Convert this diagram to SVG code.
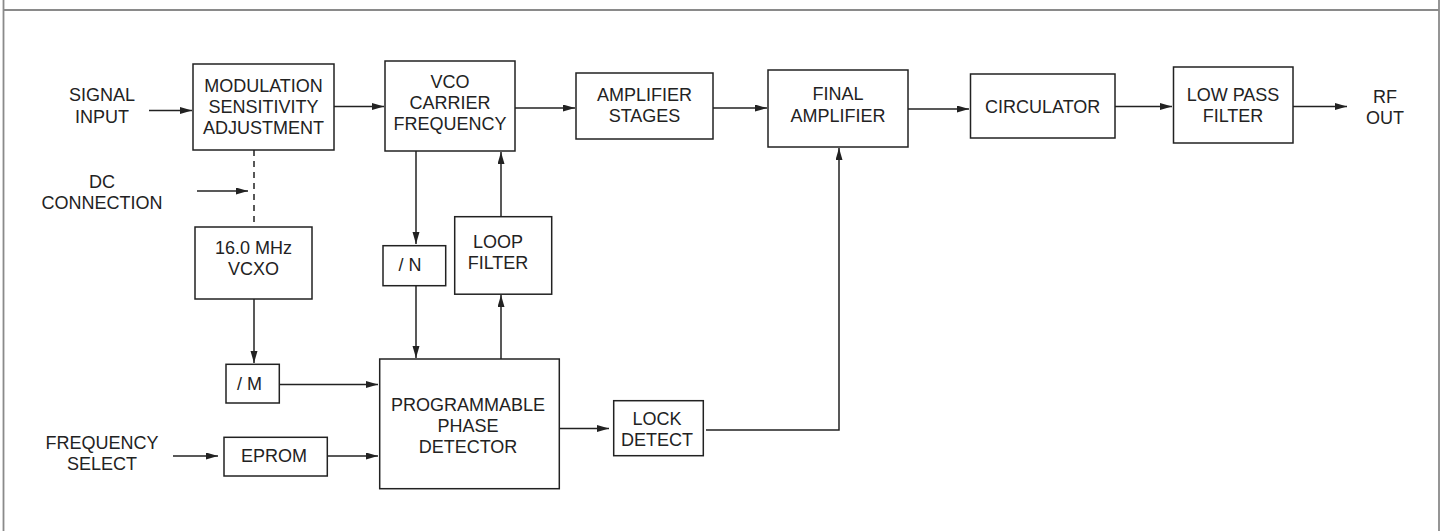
<svg xmlns="http://www.w3.org/2000/svg" width="1443" height="531" viewBox="0 0 1443 531">
<defs>
<marker id="ah" markerWidth="13" markerHeight="8" refX="12" refY="3.5" orient="auto" markerUnits="userSpaceOnUse">
<path d="M0,0 L12,3.5 L0,7 z" fill="#222"/>
</marker>
<style>
.box{fill:#fff;stroke:#222;stroke-width:1.5}
.t{font-family:"Liberation Sans",Arial,sans-serif;font-size:18px;fill:#222;text-anchor:middle}
.c{fill:none;stroke:#222;stroke-width:1.5}
.a{marker-end:url(#ah)}
.frame{stroke:#8a8a8a;stroke-width:1.8;fill:none}
</style>
</defs>
<rect width="1443" height="531" fill="#fff"/>
<g id="frame">
<line class="frame" x1="3.5" y1="0" x2="3.5" y2="531"/>
<line class="frame" x1="1439" y1="0" x2="1439" y2="531"/>
<line class="frame" x1="3.5" y1="10" x2="1439" y2="10"/>
</g>
<g id="connectors">
<line class="c a" x1="149" y1="110.5" x2="192" y2="110.5"/>
<line class="c a" x1="334" y1="106.5" x2="384" y2="106.5"/>
<line class="c a" x1="515" y1="108" x2="575" y2="108"/>
<line class="c a" x1="713" y1="108" x2="767" y2="108"/>
<line class="c a" x1="908" y1="109" x2="969" y2="109"/>
<line class="c a" x1="1115" y1="106.5" x2="1172" y2="106.5"/>
<line class="c a" x1="1293" y1="106.5" x2="1347" y2="106.5"/>
<line class="c a" x1="197" y1="191" x2="248" y2="191"/>
<line class="c" x1="254" y1="150" x2="254" y2="227" stroke-dasharray="6,5"/>
<line class="c a" x1="416" y1="151" x2="416" y2="244"/>
<line class="c a" x1="501" y1="217" x2="501" y2="152"/>
<line class="c a" x1="254" y1="299" x2="254" y2="363"/>
<line class="c a" x1="416" y1="286" x2="416" y2="358"/>
<line class="c a" x1="501" y1="359" x2="501" y2="295"/>
<line class="c a" x1="279" y1="384.5" x2="378" y2="384.5"/>
<line class="c a" x1="173" y1="456" x2="218" y2="456"/>
<line class="c a" x1="328" y1="456" x2="378" y2="456"/>
<line class="c a" x1="560" y1="428.5" x2="609" y2="428.5"/>
<polyline class="c a" points="706,430 839,430 839,148"/>
</g>
<g id="signal-input"><text class="t" x="102" y="101">SIGNAL</text><text class="t" x="102" y="123">INPUT</text></g>
<g id="dc-connection"><text class="t" x="102" y="188">DC</text><text class="t" x="102" y="209">CONNECTION</text></g>
<g id="frequency-select"><text class="t" x="102" y="449">FREQUENCY</text><text class="t" x="102" y="470">SELECT</text></g>
<g id="rf-out"><text class="t" x="1385" y="103">RF</text><text class="t" x="1385" y="123.5">OUT</text></g>
<g id="modulation"><rect class="box" x="193" y="64" width="141" height="86"/>
<text class="t" x="263.5" y="91.5">MODULATION</text><text class="t" x="263.5" y="112.5">SENSITIVITY</text><text class="t" x="263.5" y="133.5">ADJUSTMENT</text></g>
<g id="vco"><rect class="box" x="385" y="61" width="130" height="90"/>
<text class="t" x="450" y="88">VCO</text><text class="t" x="450" y="108.5">CARRIER</text><text class="t" x="450" y="129.5">FREQUENCY</text></g>
<g id="amplifier-stages"><rect class="box" x="576" y="73" width="137" height="66"/>
<text class="t" x="644.5" y="100.5">AMPLIFIER</text><text class="t" x="644.5" y="121.5">STAGES</text></g>
<g id="final-amplifier"><rect class="box" x="768" y="70" width="140" height="77"/>
<text class="t" x="838" y="99.5">FINAL</text><text class="t" x="838" y="121.5">AMPLIFIER</text></g>
<g id="circulator"><rect class="box" x="970.5" y="74" width="144.5" height="64"/>
<text class="t" x="1042.7" y="113">CIRCULATOR</text></g>
<g id="low-pass-filter"><rect class="box" x="1173.5" y="67" width="119.5" height="76"/>
<text class="t" x="1233" y="100.5">LOW PASS</text><text class="t" x="1233" y="121.5">FILTER</text></g>
<g id="vcxo"><rect class="box" x="195" y="227" width="117" height="72"/>
<text class="t" x="253.5" y="253.7">16.0 MHz</text><text class="t" x="253.5" y="275">VCXO</text></g>
<g id="div-n"><rect class="box" x="383" y="245.7" width="62.7" height="40"/>
<text class="t" x="410" y="271.4">/ N</text></g>
<g id="loop-filter"><rect class="box" x="454.7" y="216.7" width="97" height="77.5"/>
<text class="t" x="498" y="248">LOOP</text><text class="t" x="498" y="269">FILTER</text></g>
<g id="div-m"><rect class="box" x="226" y="364.3" width="53.3" height="38.7"/>
<text class="t" x="249.5" y="390.4">/ M</text></g>
<g id="eprom"><rect class="box" x="224" y="437.3" width="103.3" height="38.7"/>
<text class="t" x="274" y="462.4">EPROM</text></g>
<g id="phase-detector"><rect class="box" x="379.7" y="359" width="179.6" height="129.7"/>
<text class="t" x="468" y="411.4">PROGRAMMABLE</text><text class="t" x="468" y="432">PHASE</text><text class="t" x="468" y="453">DETECTOR</text></g>
<g id="lock-detect"><rect class="box" x="613.7" y="400.7" width="89.6" height="55"/>
<text class="t" x="657" y="425.4">LOCK</text><text class="t" x="657" y="446.4">DETECT</text></g>
</svg>
